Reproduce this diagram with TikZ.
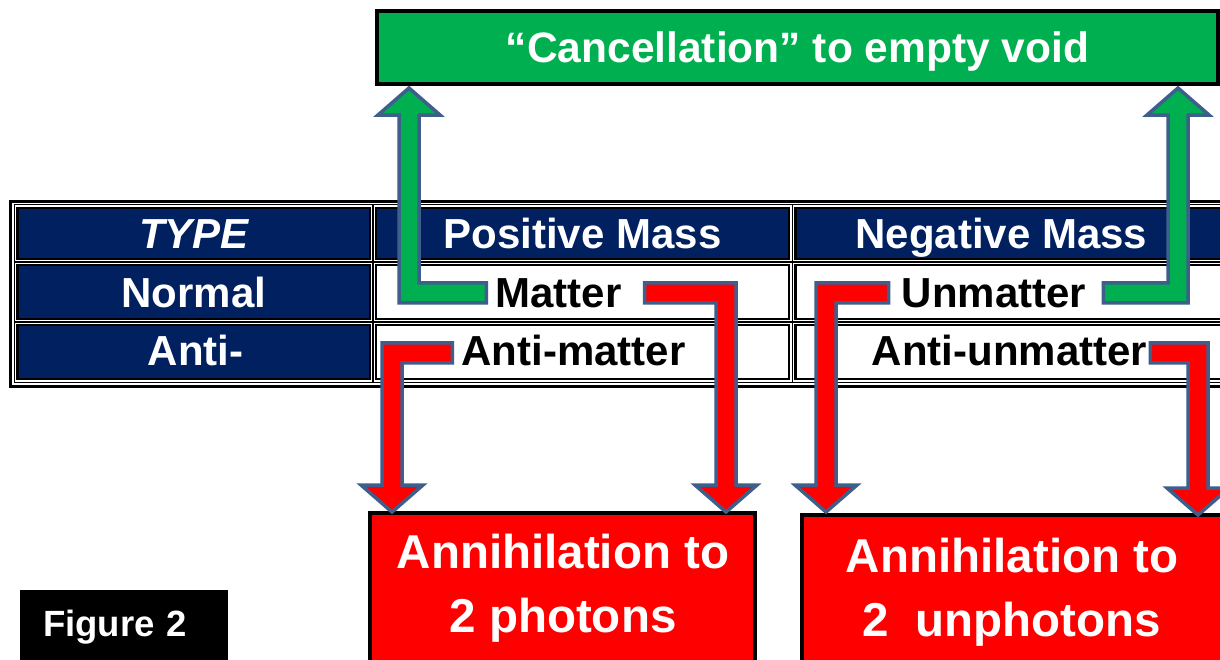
\documentclass[tikz,border=0pt]{standalone}
\usepackage{fontspec}
\setmainfont{Liberation Sans}
\usetikzlibrary{calc}

\definecolor{navy}{RGB}{0,32,96}
\definecolor{voidgreen}{RGB}{0,176,80}
\definecolor{arrowedge}{RGB}{62,94,140}

\newcommand{\tablefont}{\fontsize{42}{50}\selectfont\bfseries}
\newcommand{\shaftw}{10pt}
\newcommand{\headw}{31pt}
\newcommand{\headl}{27pt}
% bent block arrow: #1 fill, #2 tail, #3 tip
\newcommand{\bentarrow}[3]{%
  \path[blockarrow, fill=#1] let \p1=(#2), \p2=(#3),
      \n1={sign(\x1-\x2)}, \n2={sign(\y2-\y1)} in
    (\x1, {\y1+\n2*\shaftw}) -- ({\x2+\n1*\shaftw}, {\y1+\n2*\shaftw})
    -- ({\x2+\n1*\shaftw}, {\y2-\n2*\headl}) -- ({\x2+\n1*\headw}, {\y2-\n2*\headl})
    -- (\x2, \y2) -- ({\x2-\n1*\headw}, {\y2-\n2*\headl})
    -- ({\x2-\n1*\shaftw}, {\y2-\n2*\headl}) -- ({\x2-\n1*\shaftw}, {\y1-\n2*\shaftw})
    -- (\x1, {\y1-\n2*\shaftw}) -- cycle;}

\begin{document}
\begin{tikzpicture}[x=1pt, y=-1pt,
    cellrule/.style={line width=2.5pt},
    gridrule/.style={line width=1.2pt},
    hdtext/.style={font=\tablefont, text=white, anchor=base, inner sep=0pt},
    celltext/.style={font=\tablefont, text=black, anchor=base, inner sep=0pt},
    voidbox/.style={draw=black, line width=4pt, fill=voidgreen, text=white,
      outer sep=0pt, anchor=north west, minimum width=841pt, minimum height=73pt,
      text depth=0pt, font=\fontsize{42.5}{50}\selectfont\bfseries},
    resultbox/.style={draw=black, line width=4pt, fill=red, outer sep=0pt,
      anchor=north west, minimum height=200pt},
    resulttext/.style={text=white, align=center, inner sep=0pt,
      font=\fontsize{47.5}{64}\selectfont\bfseries},
    figbox/.style={fill=black, text=white, anchor=north west, minimum height=74pt,
      text width=162pt, inner xsep=23pt, inner ysep=0pt, align=left,
      font=\fontsize{36.5}{44}\selectfont\bfseries},
    blockarrow/.style={draw=arrowedge, line width=3.5pt, line join=miter}]
  \useasboundingbox (0,0) rectangle (1220,659);
  \clip (0,0) rectangle (1220,659);

  % table
  \draw[line width=3pt] (10.5,201) rectangle (1260,386);
  \foreach \ya/\yb [count=\r] in {208/259,265/319,325/379}
    \foreach \xa/\xb [count=\c] in {17.5/370,376/789,795.5/1250} {
      \ifnum\numexpr(\r-1)*(\c-1)\relax=0 \def\cellfill{navy}\else\def\cellfill{white}\fi
      \draw[gridrule] (\xa-3.25,\ya-3.25) rectangle (\xb+3.25,\yb+3.25);
      \draw[cellrule, fill=\cellfill] (\xa,\ya) rectangle (\xb,\yb);
    }
  \node[hdtext] (typehd) at (194,248) {\itshape TYPE};
  \node[hdtext] (poshd) at (582.5,248) {Positive Mass};
  \node[hdtext] (neghd) at (1001.5,248) {Negative Mass};
  \node[hdtext] (normalrow) at (194,307) {Normal};
  \node[hdtext] (antirow) at (195.5,365) {Anti-};
  \node[celltext] (matter) at (558.5,307) {Matter};
  \node[celltext] (antimatter) at (573.5,365) {Anti-matter};
  \node[celltext] (unmatter) at (994,307) {Unmatter};
  \node[celltext] (antiunmatter) at (1009.5,365) {Anti-unmatter};

  % boxes
  \node[voidbox] (void) at (377,11) {“Cancellation” to empty void};
  \node[resultbox, minimum width=385pt] (photons) at (370,513) {};
  \node[resultbox, minimum width=438pt] (unphotons) at (802,515) {};
  \node[resulttext] (photonstext) at (563,588) {Annihilation to\\2 photons};
  \node[resulttext] (unphotonstext) at (1012,592) {Annihilation to\\2\ \ unphotons};
  \node[figbox] (figlabel) at (20,590) {Figure 2};

  % arrows
  \coordinate (gltail) at ([xshift=-9pt]matter.west);
  \coordinate (gltip) at ([xshift=32pt,yshift=-4pt]void.south west);
  \coordinate (grtail) at ([xshift=17pt]unmatter.east);
  \coordinate (grtip) at ([xshift=-40pt,yshift=-4pt]void.south east);
  \coordinate (r1tail) at ([xshift=23pt]matter.east);
  \coordinate (r1tip) at ([xshift=356pt,yshift=1pt]photons.north west);
  \coordinate (r2tail) at ([xshift=-9pt,yshift=-3pt]antimatter.west);
  \coordinate (r2tip) at ([xshift=22pt,yshift=1pt]photons.north west);
  \coordinate (r3tail) at ([xshift=-13pt]unmatter.west);
  \coordinate (r3tip) at ([xshift=24pt,yshift=3pt]unphotons.north west);
  \coordinate (r4tail) at ([xshift=3pt,yshift=-3pt]antiunmatter.east);
  \coordinate (r4tip) at ([xshift=396pt]unphotons.north west);
  \bentarrow{voidgreen}{gltail}{gltip}
  \bentarrow{voidgreen}{grtail}{grtip}
  \bentarrow{red}{r1tail}{r1tip}
  \bentarrow{red}{r2tail}{r2tip}
  \bentarrow{red}{r3tail}{r3tip}
  \bentarrow{red}{r4tail}{r4tip}
\end{tikzpicture}
\end{document}
